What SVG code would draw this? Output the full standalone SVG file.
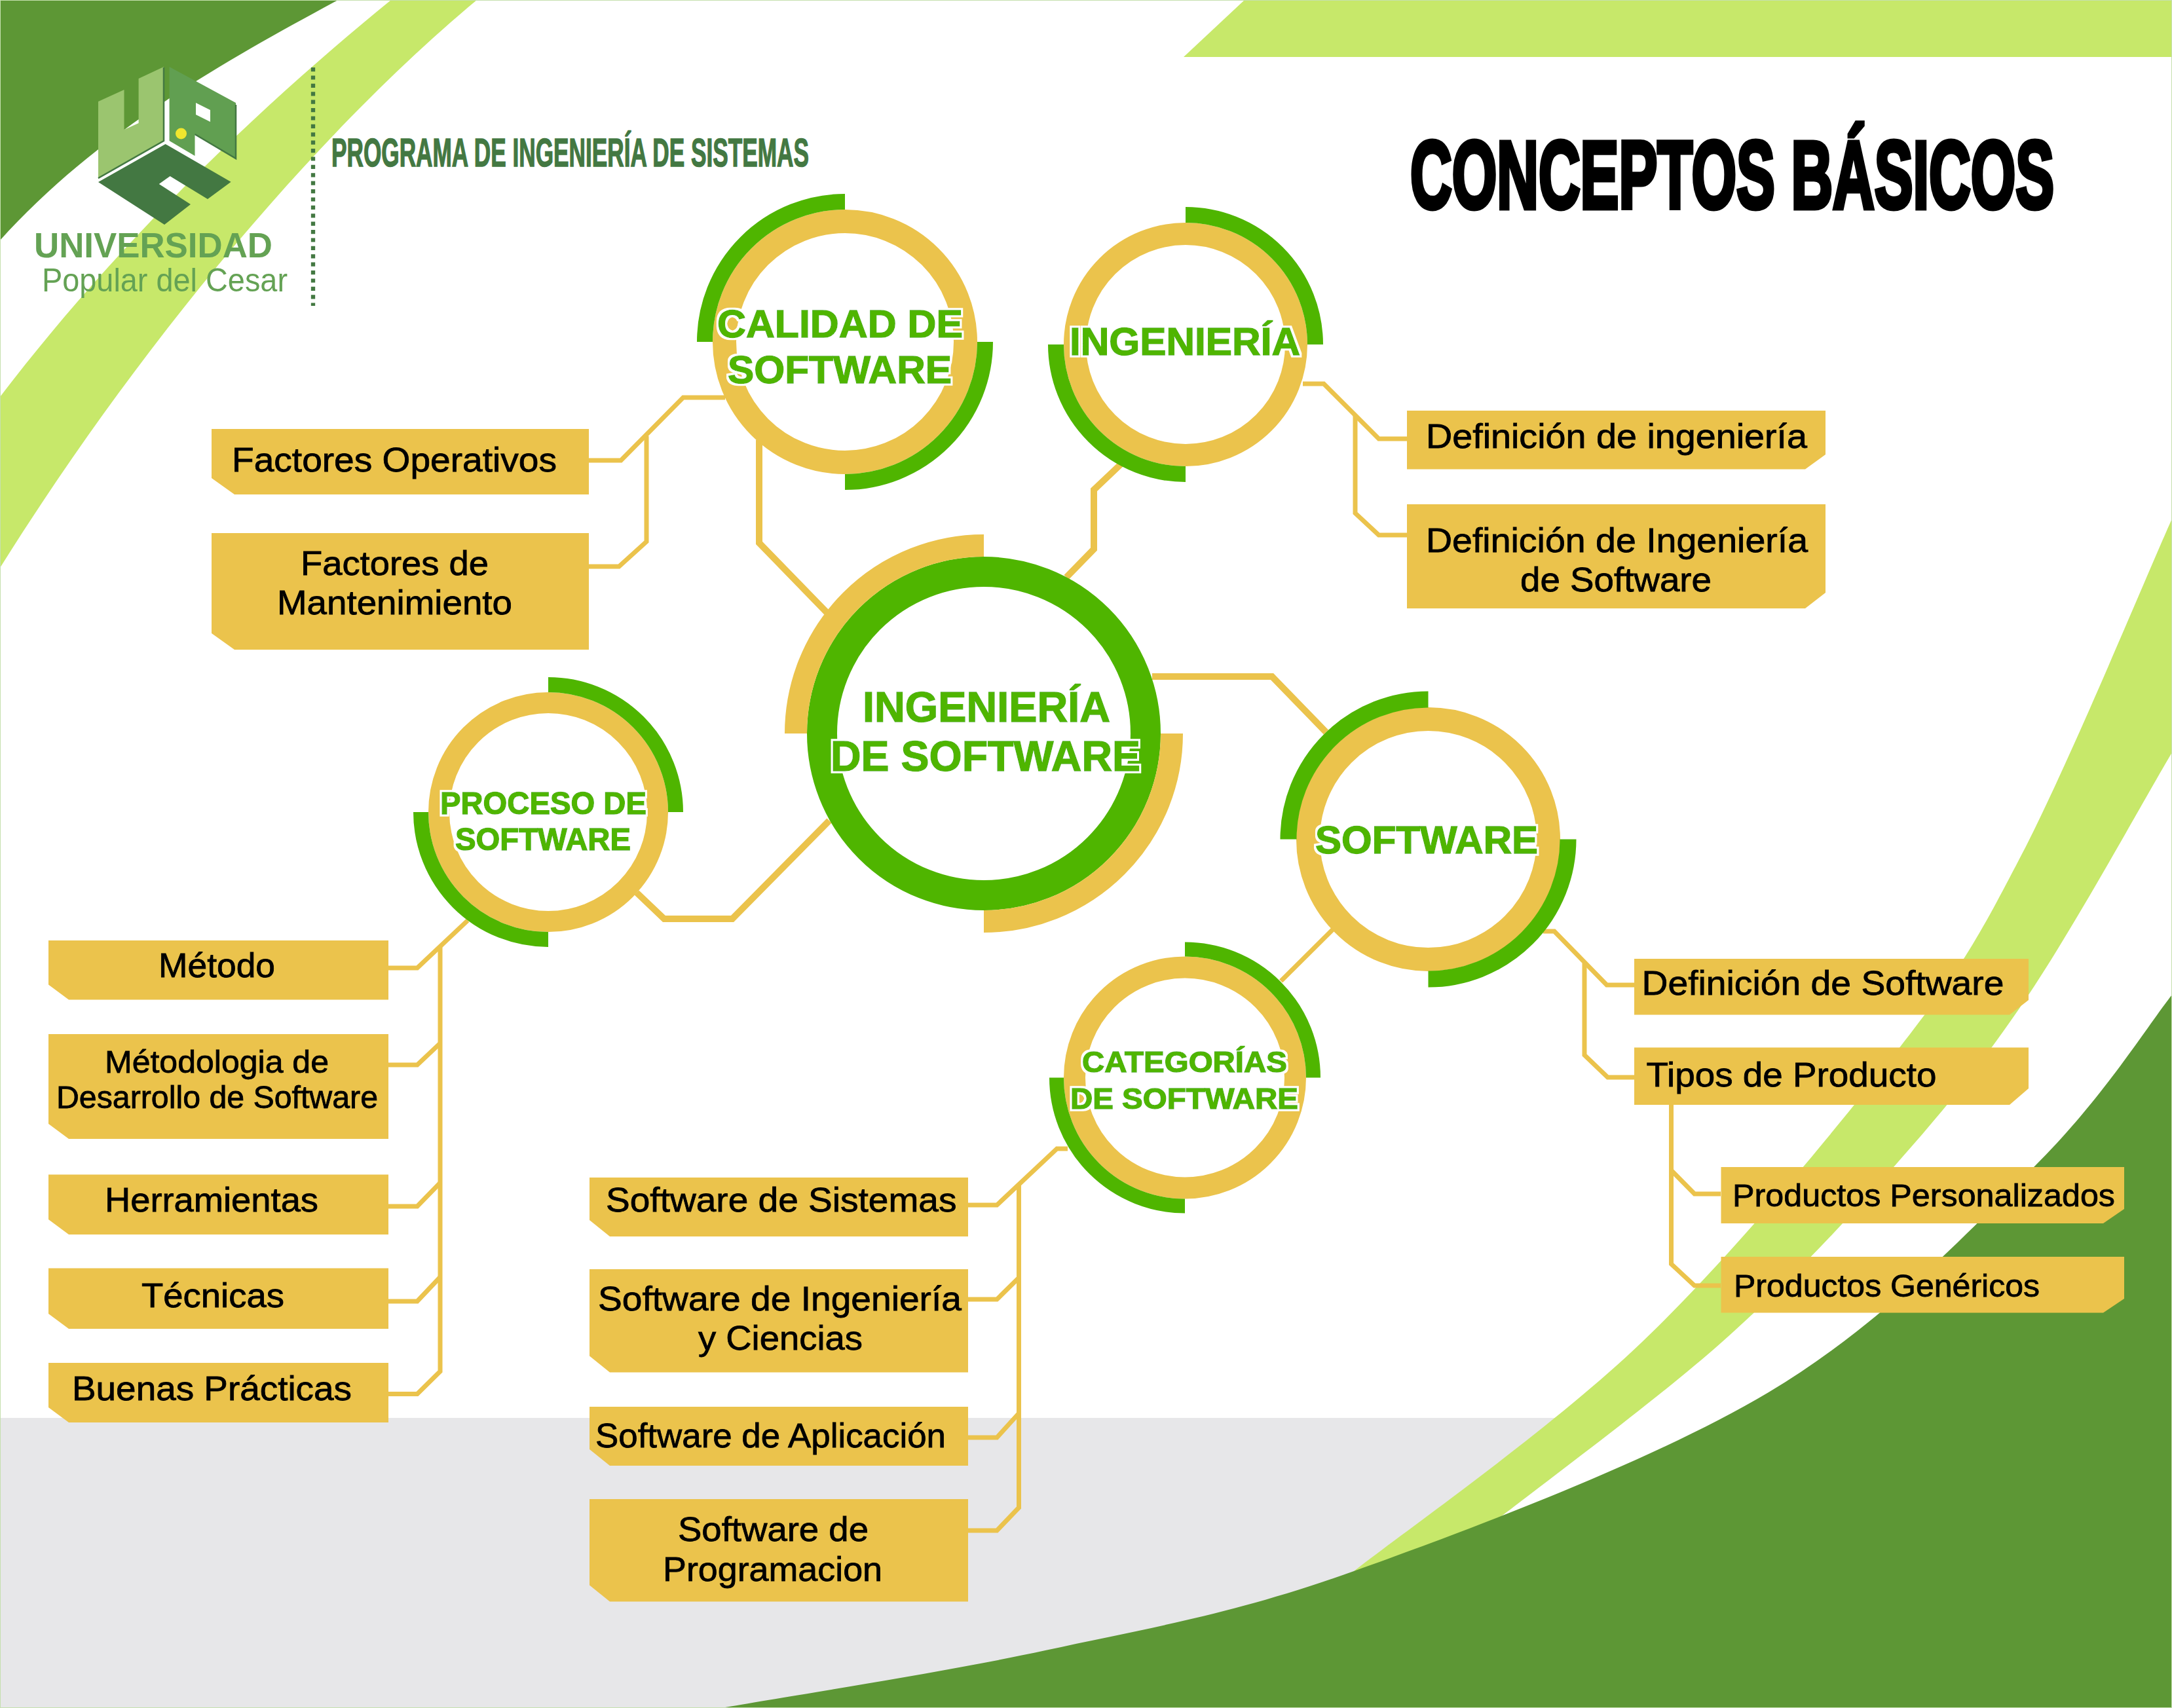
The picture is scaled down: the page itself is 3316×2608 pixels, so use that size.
<svg xmlns="http://www.w3.org/2000/svg" width="3316" height="2608" viewBox="0 0 3316 2608">
<defs>
<filter id="halo" x="-5%" y="-25%" width="110%" height="150%">
<feMorphology in="SourceAlpha" operator="dilate" radius="3" result="d"/>
<feFlood flood-color="#fff"/>
<feComposite in2="d" operator="in" result="w"/>
<feMerge><feMergeNode in="w"/><feMergeNode in="SourceGraphic"/></feMerge>
</filter>
</defs>
<style>
.dk{fill:#5d9735}.lt{fill:#c7e86a}.box{fill:#ebc34c}
.conn{fill:none;stroke:#ebc34c;stroke-width:7;stroke-linejoin:miter}
.main{stroke-width:10}
.ring{fill:#fff;stroke:#ebc34c}
.arc{fill:none;stroke:#4fb500}
.t{font-family:"Liberation Sans",Arial,sans-serif;fill:#000;font-size:52px;stroke:#000;stroke-width:.8;transform:translateY(1px)}
.t2{font-size:48px}
.c{font-family:"Liberation Sans",Arial,sans-serif;font-weight:700;fill:#4fb500;stroke:#4fb500;stroke-width:1.500;filter:url(#halo)}
</style>
<g id="background">
<rect width="3316" height="2608" fill="#fff"/>
<rect y="2165" width="3316" height="443" fill="#e7e7e9"/>
<path class="dk" d="M0 0H516C350 90 150 200 0 367Z"/>
<path class="lt" d="M597 0H728C500 190 230 500 0 867V606C180 370 400 160 597 0Z"/>
<path class="lt" d="M1900 0H3316V87H1807Z"/>
<path fill="#fff" d="M3316 1149C3279 1211 3168 1413.500 3097 1519C3026 1624.500 2969 1694 2891 1782C2813 1870 2731 1958.500 2628 2050C2525 2141.500 2331 2284 2272 2331L2700 2500H3316Z"/>
<path class="lt" d="M2066 2400C2139 2342 2367 2183 2506 2050C2645 1917 2802 1726 2899 1601C2996 1476 3019 1435 3089 1300C3159 1165 3278 877 3316 792V1149C3279 1211 3168 1413.500 3097 1519C3026 1624.500 2969 1694 2891 1782C2813 1870 2731 1958.500 2628 2050C2525 2141.500 2331 2284 2272 2331Z"/>
<path class="dk" d="M1102 2608C1184 2593 1435 2555 1596 2520C1757 2485 1883 2465 2067 2399C2251 2333 2527 2229 2700 2126C2873 2023 3002 1883 3105 1782C3208 1681 3281 1563 3316 1519V2608Z"/>
<rect x="0" y="0" width="3316" height="2608" fill="none" stroke="#c5e0ae" stroke-width="2"/>
</g>
<g id="logo">
<path fill="#9bc56f" d="M150 155L189.500 137V198L211.600 188V120L250 102V215L150 273Z"/>
<path fill="#619f51" fill-rule="evenodd" d="M258.600 102L360 157V242L297.500 205V238L258.600 215ZM299 157V175L321 186V168Z"/>
<path fill="none" stroke="#437842" stroke-width="2.500" d="M150 272L250 215V103M297.500 205L360 242V160"/>
<path fill="#437842" d="M252.600 220L352.600 277.700L317 304L259.600 269L242.800 281L291 312L251 343L150 278Z"/>
<circle cx="276.500" cy="204" r="8.500" fill="#f0e62e"/>
<text x="52" y="393" font-family="'Liberation Sans',Arial,sans-serif" font-weight="700" font-size="53" fill="#64a254" textLength="364" lengthAdjust="spacingAndGlyphs">UNIVERSIDAD</text>
<text x="64" y="445" font-family="'Liberation Sans',Arial,sans-serif" font-size="50" fill="#64a254" textLength="375" lengthAdjust="spacingAndGlyphs">Popular del Cesar</text>
<path fill="none" stroke="#437842" stroke-width="6.300" stroke-dasharray="6.200 6.200" d="M478 103V467"/>
</g>
<g id="titles">
<text x="506" y="254" font-family="'Liberation Sans',Arial,sans-serif" font-weight="700" font-size="61" fill="#437842" stroke="#437842" stroke-width="1.500" textLength="729" lengthAdjust="spacingAndGlyphs">PROGRAMA DE INGENIERÍA DE SISTEMAS</text>
<text transform="translate(2153 318) scale(.604 1)" font-family="'Liberation Sans',Arial,sans-serif" font-weight="700" font-size="146" fill="#000" stroke="#000" stroke-width="7">CONCEPTOS BÁSICOS</text>
</g>
<g id="connectors" class="conn">
<path d="M1107 607H1043L948 703H899"/>
<path d="M899 865H945L987 827V666"/>
<path class="main" d="M1159 672V829L1262 935"/>
<path class="main" d="M1711 709L1670 748V838.500L1628 881.600"/>
<path d="M1989 586H2021L2105 670H2148"/>
<path d="M2069 633V783.500L2105 817H2148"/>
<path class="main" d="M1759 1033H1942L2024.500 1118"/>
<path class="main" d="M1266 1253L1118 1403H1014L972 1363"/>
<path d="M2035 1419L1955.600 1498"/>
<path d="M2356 1422H2373L2453 1504H2495"/>
<path d="M2419 1471V1611L2454.500 1645H2495"/>
<path d="M2551.500 1687V1930L2587 1963H2627"/>
<path d="M2551.500 1787L2587 1823H2627"/>
<path d="M714 1405.500L637 1478H593"/>
<path d="M672 1444V2094L637 2128.500H593"/>
<path d="M672 1593L637 1626H593"/>
<path d="M672 1806L637 1842H593"/>
<path d="M672 1950L637 1987H593"/>
<path d="M1630 1754H1613.600L1522 1840H1478"/>
<path d="M1555.500 1807V2302L1522 2337H1478"/>
<path d="M1555.500 1951L1522 1984H1478"/>
<path d="M1555.500 2158L1522 2195H1478"/>
</g>
<g id="node-central">
<circle class="ring" cx="1502" cy="1120" r="247" style="stroke:#4fb500;stroke-width:46"/>
<path class="arc" stroke-width="34" style="stroke:#ebc34c" d="M1215 1120A287 287 0 0 1 1502 833M1789 1120A287 287 0 0 1 1502 1407"/>
<text class="c" font-size="65" x="1317" y="1101.500" textLength="378" lengthAdjust="spacingAndGlyphs">INGENIERÍA</text>
<text class="c" font-size="65" x="1268" y="1177" textLength="473" lengthAdjust="spacingAndGlyphs">DE SOFTWARE</text>
</g>
<g id="node-calidad">
<circle class="ring" cx="1290" cy="522" r="184" stroke-width="36"/>
<path class="arc" stroke-width="24" d="M1076 522A214 214 0 0 1 1290 308M1504 522A214 214 0 0 1 1290 736"/>
<text class="c" font-size="60" x="1095" y="515" textLength="375" lengthAdjust="spacingAndGlyphs">CALIDAD DE</text>
<text class="c" font-size="60" x="1111" y="585" textLength="342" lengthAdjust="spacingAndGlyphs">SOFTWARE</text>
</g>
<g id="node-ingenieria">
<circle class="ring" cx="1810" cy="526" r="169" stroke-width="34"/>
<path class="arc" stroke-width="24" d="M1810 328A198 198 0 0 1 2008 526M1810 724A198 198 0 0 1 1612 526"/>
<text class="c" font-size="60" x="1633" y="542" textLength="352" lengthAdjust="spacingAndGlyphs">INGENIERÍA</text>
</g>
<g id="node-software">
<circle class="ring" cx="2180.500" cy="1281.500" r="183.500" stroke-width="36"/>
<path class="arc" stroke-width="25" d="M1967 1281.500A213.500 213.500 0 0 1 2180.500 1068M2394 1281.500A213.500 213.500 0 0 1 2180.500 1495"/>
<text class="c" font-size="60" x="2008" y="1302.500" textLength="340" lengthAdjust="spacingAndGlyphs">SOFTWARE</text>
</g>
<g id="node-proceso">
<circle class="ring" cx="837" cy="1240" r="167" stroke-width="32"/>
<path class="arc" stroke-width="23" d="M837 1045.500A194.500 194.500 0 0 1 1031.500 1240M837 1434.500A194.500 194.500 0 0 1 642.500 1240"/>
<text class="c" font-size="49" x="672" y="1243" textLength="315" lengthAdjust="spacingAndGlyphs">PROCESO DE</text>
<text class="c" font-size="49" x="695" y="1298" textLength="268" lengthAdjust="spacingAndGlyphs">SOFTWARE</text>
</g>
<g id="node-categorias">
<circle class="ring" cx="1809" cy="1645.500" r="168.500" stroke-width="33"/>
<path class="arc" stroke-width="22" d="M1809 1449.500A196 196 0 0 1 2005 1645.500M1809 1841.500A196 196 0 0 1 1613 1645.500"/>
<text class="c" font-size="45" x="1652" y="1637" textLength="313" lengthAdjust="spacingAndGlyphs">CATEGORÍAS</text>
<text class="c" font-size="45" x="1634" y="1693" textLength="348" lengthAdjust="spacingAndGlyphs">DE SOFTWARE</text>
</g>
<g id="node-factores-operativos">
<path class="box" d="M323 655H899V755H358L323 730Z"/>
<text class="t" x="354" y="719" textLength="496" lengthAdjust="spacingAndGlyphs">Factores Operativos</text>
</g>
<g id="node-factores-mantenimiento">
<path class="box" d="M323 814H899V992H358L323 967Z"/>
<text class="t" x="459" y="877" textLength="287" lengthAdjust="spacingAndGlyphs">Factores de</text>
<text class="t" x="423" y="937" textLength="359" lengthAdjust="spacingAndGlyphs">Mantenimiento</text>
</g>
<g id="node-def-ingenieria">
<path class="box" d="M2148 627H2787V694L2756 716.500H2148Z"/>
<text class="t" x="2177" y="683" textLength="582" lengthAdjust="spacingAndGlyphs">Definición de ingeniería</text>
</g>
<g id="node-def-ing-software">
<path class="box" d="M2148 770H2787V905L2756 929H2148Z"/>
<text class="t" x="2177" y="842" textLength="583" lengthAdjust="spacingAndGlyphs">Definición de Ingeniería</text>
<text class="t" x="2321" y="902" textLength="292" lengthAdjust="spacingAndGlyphs">de Software</text>
</g>
<g id="node-def-software">
<path class="box" d="M2495 1464H3097V1527L3068 1549.500H2495Z"/>
<text class="t" x="2506.500" y="1518" textLength="553" lengthAdjust="spacingAndGlyphs">Definición de Software</text>
</g>
<g id="node-tipos">
<path class="box" d="M2495 1599.500H3097V1662L3068 1687H2495Z"/>
<text class="t" x="2513.500" y="1658" textLength="443" lengthAdjust="spacingAndGlyphs">Tipos de Producto</text>
</g>
<g id="node-personalizados">
<path class="box" d="M2627.500 1782H3243V1846L3211 1868H2627.500Z"/>
<text class="t t2" x="2645" y="1841" textLength="584" lengthAdjust="spacingAndGlyphs">Productos Personalizados</text>
</g>
<g id="node-genericos">
<path class="box" d="M2627.500 1919H3243V1983L3211 2004.600H2627.500Z"/>
<text class="t t2" x="2647" y="1978.500" textLength="467" lengthAdjust="spacingAndGlyphs">Productos Genéricos</text>
</g>
<g id="node-metodo">
<path class="box" d="M74 1436H593V1526.500H105L74 1503.500Z"/>
<text class="t" x="242" y="1491" textLength="178" lengthAdjust="spacingAndGlyphs">Método</text>
</g>
<g id="node-metodologia">
<path class="box" d="M74 1579H593V1739H105L74 1716Z"/>
<text class="t t2" x="160" y="1637" textLength="342" lengthAdjust="spacingAndGlyphs">Métodologia de</text>
<text class="t t2" x="86" y="1691" textLength="491" lengthAdjust="spacingAndGlyphs">Desarrollo de Software</text>
</g>
<g id="node-herramientas">
<path class="box" d="M74 1793.500H593V1885H105L74 1862Z"/>
<text class="t" x="160" y="1849" textLength="326" lengthAdjust="spacingAndGlyphs">Herramientas</text>
</g>
<g id="node-tecnicas">
<path class="box" d="M74 1936.500H593V2029H105L74 2006Z"/>
<text class="t" x="216" y="1995" textLength="218" lengthAdjust="spacingAndGlyphs">Técnicas</text>
</g>
<g id="node-buenas">
<path class="box" d="M74 2081H593V2172H105L74 2149Z"/>
<text class="t" x="110" y="2137" textLength="427" lengthAdjust="spacingAndGlyphs">Buenas Prácticas</text>
</g>
<g id="node-sw-sistemas">
<path class="box" d="M900 1798H1478V1888H931L900 1863Z"/>
<text class="t" x="925" y="1849" textLength="535.500" lengthAdjust="spacingAndGlyphs">Software de Sistemas</text>
</g>
<g id="node-sw-ingenieria">
<path class="box" d="M900 1938H1478V2095.500H931L900 2070.500Z"/>
<text class="t" x="913" y="2000" textLength="555" lengthAdjust="spacingAndGlyphs">Software de Ingeniería</text>
<text class="t" x="1066" y="2060" textLength="251" lengthAdjust="spacingAndGlyphs">y Ciencias</text>
</g>
<g id="node-sw-aplicacion">
<path class="box" d="M900 2148H1478V2238H931L900 2213Z"/>
<text class="t" x="909" y="2209" textLength="535" lengthAdjust="spacingAndGlyphs">Software de Aplicación</text>
</g>
<g id="node-sw-programacion">
<path class="box" d="M900 2289H1478V2445.600H931L900 2420.600Z"/>
<text class="t" x="1035" y="2352" textLength="291" lengthAdjust="spacingAndGlyphs">Software de</text>
<text class="t" x="1012" y="2413" textLength="335" lengthAdjust="spacingAndGlyphs">Programacion</text>
</g>
</svg>
